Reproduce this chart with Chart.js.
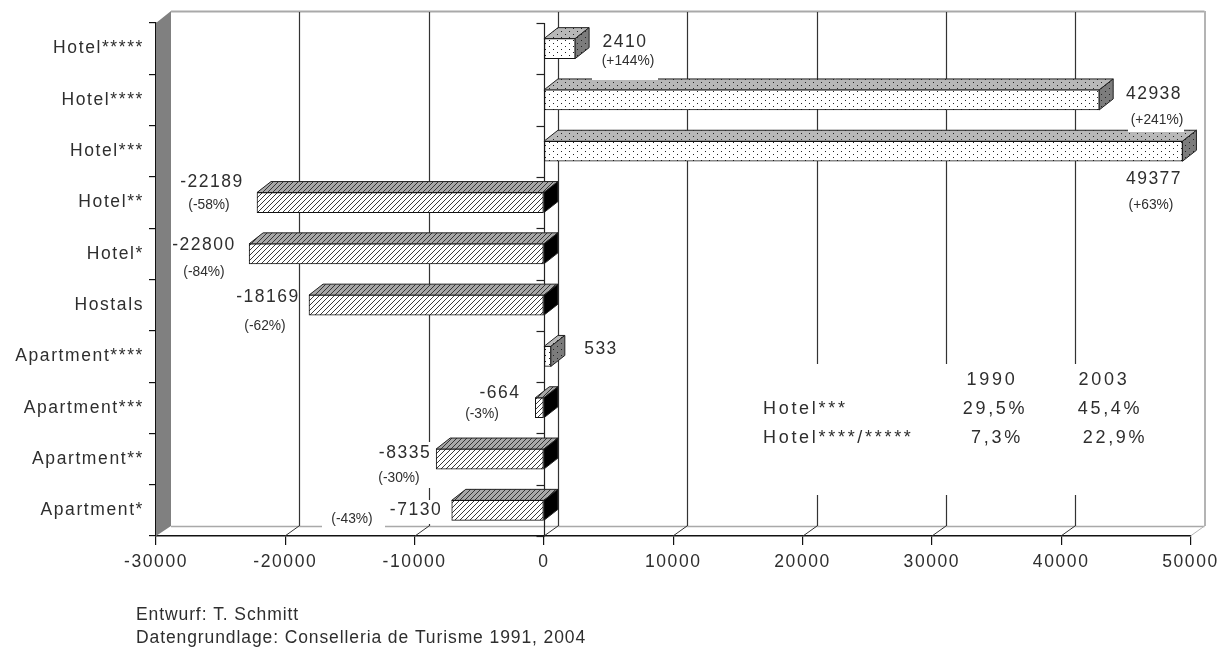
<!DOCTYPE html>
<html><head><meta charset="utf-8">
<style>html,body{margin:0;padding:0;background:#fff;overflow:hidden}canvas{display:block}</style>
<script src="https://cdn.jsdelivr.net/npm/chart.js@4"></script></head>
<body><canvas id="c" width="1228" height="647"></canvas>
<script>
const categories = ["Hotel*****","Hotel****","Hotel***","Hotel**","Hotel*","Hostals","Apartment****","Apartment***","Apartment**","Apartment*"];
const changes = [2410,42938,49377,-22189,-22800,-18169,533,-664,-8335,-7130];
const percents = ["(+144%)","(+241%)","(+63%)","(-58%)","(-84%)","(-62%)","","(-3%)","(-30%)","(-43%)"];
const tableRows = ["Hotel***","Hotel****/*****"];
const tableYears = ["1990","2003"];
const table1990 = ["29,5%","7,3%"];
const table2003 = ["45,4%","22,9%"];
const credits = ["Entwurf: T. Schmitt","Datengrundlage: Conselleria de Turisme 1991, 2004"];

// annotation layout (page pixels, not data)
const valuePos = [[625,42],[1154,94],[1154,179],[212,182],[204,245],[268,297],[601,349],[500,393],[405,453],[416,510]];
const pctPos = [[628,61],[1157,120],[1151,205],[209,205],[204,272],[265,326],null,[482,414],[399,478],[352,519]];
const FONT = '"Liberation Sans", Arial, sans-serif';
const INK = '#2e2e2e';
const DX = 14, DY = 11;

function pat(draw, w, h, bg){
  const c = document.createElement('canvas'); c.width = w; c.height = h;
  const g = c.getContext('2d'); g.fillStyle = bg; g.fillRect(0,0,w,h); draw(g);
  return document.getElementById('c').getContext('2d').createPattern(c,'repeat');
}
const dots = bg => pat(g=>{g.fillStyle='#222';g.fillRect(1,1,1,1);g.fillRect(5,4,1,1);},8,6,bg);
const hatch = (bg,ink) => pat(g=>{g.fillStyle=ink;
  for(let i=0;i<5;i++){g.fillRect(i,4-i,1,1);} },5,5,bg);
const P = {front:dots('#fff'),top:dots('#b8b8b8'),side:dots('#7c7c7c'),nFront:hatch('#fff','#3a3a3a'),nTop:hatch('#a8a8a8','#333')};

function poly(ctx,pts,fill,stroke){
  ctx.beginPath(); pts.forEach((p,i)=> i?ctx.lineTo(p[0],p[1]):ctx.moveTo(p[0],p[1])); ctx.closePath();
  ctx.fillStyle=fill; ctx.fill(); if(stroke){ctx.strokeStyle=stroke;ctx.lineWidth=1;ctx.stroke();}
}
function line(ctx,x1,y1,x2,y2,col,w){ctx.strokeStyle=col;ctx.lineWidth=w||1;ctx.beginPath();ctx.moveTo(x1,y1);ctx.lineTo(x2,y2);ctx.stroke();}

const scene = {
  id:'scene',
  beforeDraw(ch){ ch.ctx.letterSpacing='1.6px'; },
  beforeDatasetsDraw(ch){
    const {ctx,scales:{x,y},chartArea:a}=ch; const l=a.left,r=a.right,t=a.top,b=Math.round(a.bottom);
    ctx.save();
    poly(ctx,[[l,t],[l+DX+1,t-DY-1],[l+DX+1,b-10],[l,b]],'#808080');
    line(ctx,l+15,t-11.5,r+14,t-11.5,'#a9a9a9',2);
    line(ctx,r+14.5,t-12,r+14.5,b-10,'#b4b4b4',2);
    line(ctx,l+15,b-9.5,r+14,b-9.5,'#a9a9a9',1.5);
    line(ctx,r,b,r+14,b-10,'#b4b4b4',1);
    x.ticks.forEach(tk=>{
      const px=Math.round(x.getPixelForValue(tk.value));
      if(tk.value>-30000 && tk.value<50000){
        line(ctx,px+14.5,t-11,px+14.5,b-10,'#333',1.2);
        line(ctx,px,b,px+14,b-10,'#333',1);
      }
    });
    ctx.fillStyle='#fff'; ctx.fillRect(760,364,392,131);
    ctx.fillRect(378,442,56,46); ctx.fillRect(388,500,57,24); ctx.fillRect(322,508,63,21);
    const z=Math.round(x.getPixelForValue(0))+0.5;
    line(ctx,z,t,z,b,'#222',1.2);
    for(let i=0;i<=categories.length;i++){
      const py=Math.round(t+i*(b-t)/categories.length)+0.5;
      line(ctx,z-8,py,z,py,'#222',1.2);
    }
    const meta=ch.getDatasetMeta(0);
    meta.data.forEach((el,i)=>{
      const v=changes[i], yT=el.y-10, yB=el.y+10, xZ=x.getPixelForValue(0), xE=el.x;
      const xL=Math.min(xZ,xE), xR=Math.max(xZ,xE);
      poly(ctx,[[xL,yT],[xL+DX,yT-DY],[xR+DX,yT-DY],[xR,yT]], v>0?P.top:P.nTop, '#222');
      poly(ctx,[[xR,yT],[xR+DX,yT-DY],[xR+DX,yB-DY],[xR,yB]], v>0?P.side:'#000', '#222');
    });
    ctx.restore();
  },
  afterDatasetsDraw(ch){
    const ctx=ch.ctx; ctx.save();
    ctx.textBaseline='middle';
    ctx.fillStyle='#fff';
    ctx.fillRect(592,76,66,4); ctx.fillRect(1128,128,56,4);
    ctx.fillStyle=INK;
    ctx.textAlign='center';
    ctx.font='17.5px '+FONT; ctx.letterSpacing='1.5px';
    changes.forEach((v,i)=>ctx.fillText(String(v),valuePos[i][0],valuePos[i][1]));
    ctx.font='13.8px '+FONT; ctx.letterSpacing='0px';
    percents.forEach((s,i)=>{ if(pctPos[i]) ctx.fillText(s,pctPos[i][0],pctPos[i][1]); });
    ctx.font='18px '+FONT; ctx.letterSpacing='2.7px';
    ctx.textAlign='center';
    ctx.fillText(tableYears[0],992,380); ctx.fillText(tableYears[1],1104,380);
    ctx.fillText(table1990[0],995,409); ctx.fillText(table2003[0],1110,409);
    ctx.fillText(table1990[1],997,438); ctx.fillText(table2003[1],1115,438);
    ctx.textAlign='left';
    ctx.fillText(tableRows[0],763,409); ctx.fillText(tableRows[1],763,438);
    ctx.font='17.5px '+FONT; ctx.letterSpacing='0.9px';
    ctx.fillText(credits[0],136,615); ctx.fillText(credits[1],136,638);
    ctx.restore();
  }
};

new Chart(document.getElementById('c'),{
  type:'bar',
  plugins:[scene],
  data:{labels:categories,datasets:[{
    data:changes,
    backgroundColor:changes.map(v=>v>0?P.front:P.nFront),
    borderColor:'#111',borderWidth:1,borderSkipped:false,barThickness:20
  }]},
  options:{
    indexAxis:'y',responsive:false,animation:false,devicePixelRatio:1,
    layout:{autoPadding:false,padding:{left:0,right:37.5,top:23,bottom:0}},
    plugins:{legend:{display:false},tooltip:{enabled:false},title:{display:false}},
    scales:{
      x:{type:'linear',min:-30000,max:50000,
        afterFit(s){s.height=111;},
        border:{color:'#111',width:1.4},
        grid:{drawOnChartArea:false,drawTicks:true,tickLength:9,color:'#111',lineWidth:1.2},
        ticks:{stepSize:10000,autoSkip:false,maxRotation:0,padding:7,color:INK,font:{family:FONT,size:17.5},callback:v=>String(v)}},
      y:{type:'category',offset:true,
        afterFit(s){s.width=156;},
        border:{color:'#111',width:1.4},
        grid:{offset:true,drawOnChartArea:false,drawTicks:true,tickLength:7,color:'#111',lineWidth:1.2},
        ticks:{autoSkip:false,padding:5,color:INK,font:{family:FONT,size:17.5}}}
    }
  }
});
</script></body></html>
